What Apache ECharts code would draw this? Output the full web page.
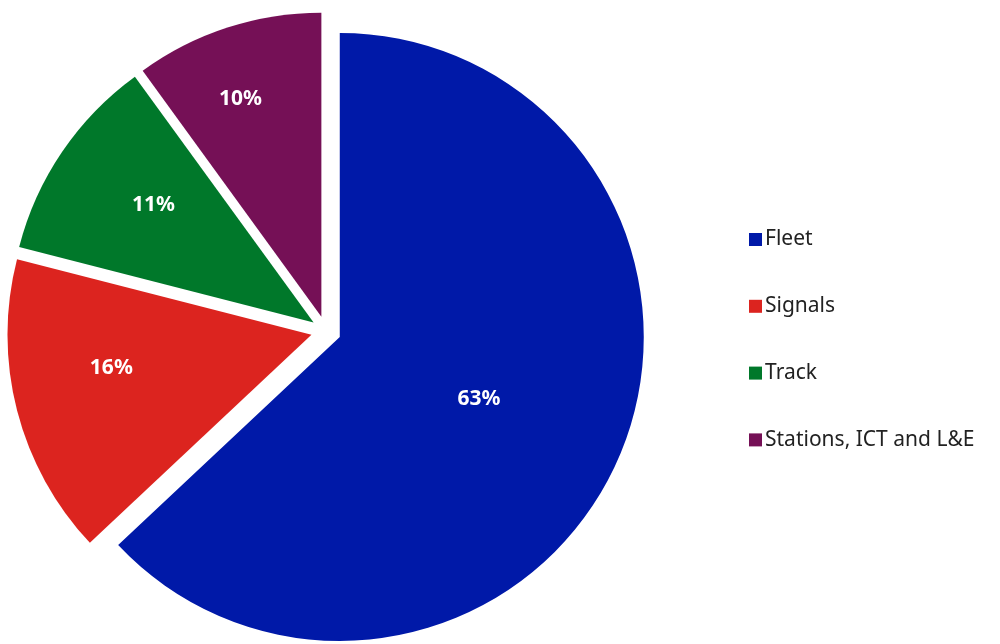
<!DOCTYPE html>
<html>
<head>
<meta charset="utf-8">
<script src="https://cdn.jsdelivr.net/npm/echarts@6/dist/echarts.min.js"></script>
<style>
html,body{margin:0;padding:0;background:#fff;}
#chart{width:1000px;height:644px;}
</style>
</head>
<body>
<div id="chart"></div>
<script>
const categories = ['Fleet', 'Signals', 'Track', 'Stations, ICT and L&E'];
const values = [63, 16, 11, 10];
const colors = ['#0019a8', '#dc241f', '#00782a', '#751056'];
// label nudges (styling) to mimic the original label placement
const labelNudge = [[-3, 1], [-50, -5], [-32, -30], [-33, -70]];

const chart = echarts.init(document.getElementById('chart'), null, {renderer: 'canvas'});
const FONT = '"Noto Sans", sans-serif';
chart.setOption({
  animation: false,
  legend: {
    orient: 'vertical',
    left: 744,
    top: 224,
    itemWidth: 13,
    itemHeight: 13,
    itemGap: 45.8,
    icon: 'rect',
    selectedMode: false,
    data: categories,
    textStyle: { fontFamily: FONT, fontSize: 21, lineHeight: 20, color: '#222', padding: [0, 0, 0, -2] }
  },
  series: [{
    type: 'pie',
    center: [326, 331],
    radius: [0, 304],
    startAngle: 90,
    clockwise: true,
    selectedMode: 'multiple',
    selectedOffset: 15,
    avoidLabelOverlap: false,
    label: {
      show: true,
      position: 'inside',
      formatter: '{c}%',
      color: '#fff',
      fontFamily: FONT,
      fontWeight: 'bold',
      fontSize: 21
    },
    labelLayout: function (p) {
      const n = labelNudge[p.dataIndex];
      return { dx: n[0], dy: n[1] };
    },
    labelLine: { show: false },
    emphasis: { disabled: true },
    data: categories.map((name, i) => ({
      name: name,
      value: values[i],
      selected: true,
      itemStyle: { color: colors[i] },
      select: { itemStyle: { color: colors[i] } }
    }))
  }]
});
</script>
</body>
</html>
